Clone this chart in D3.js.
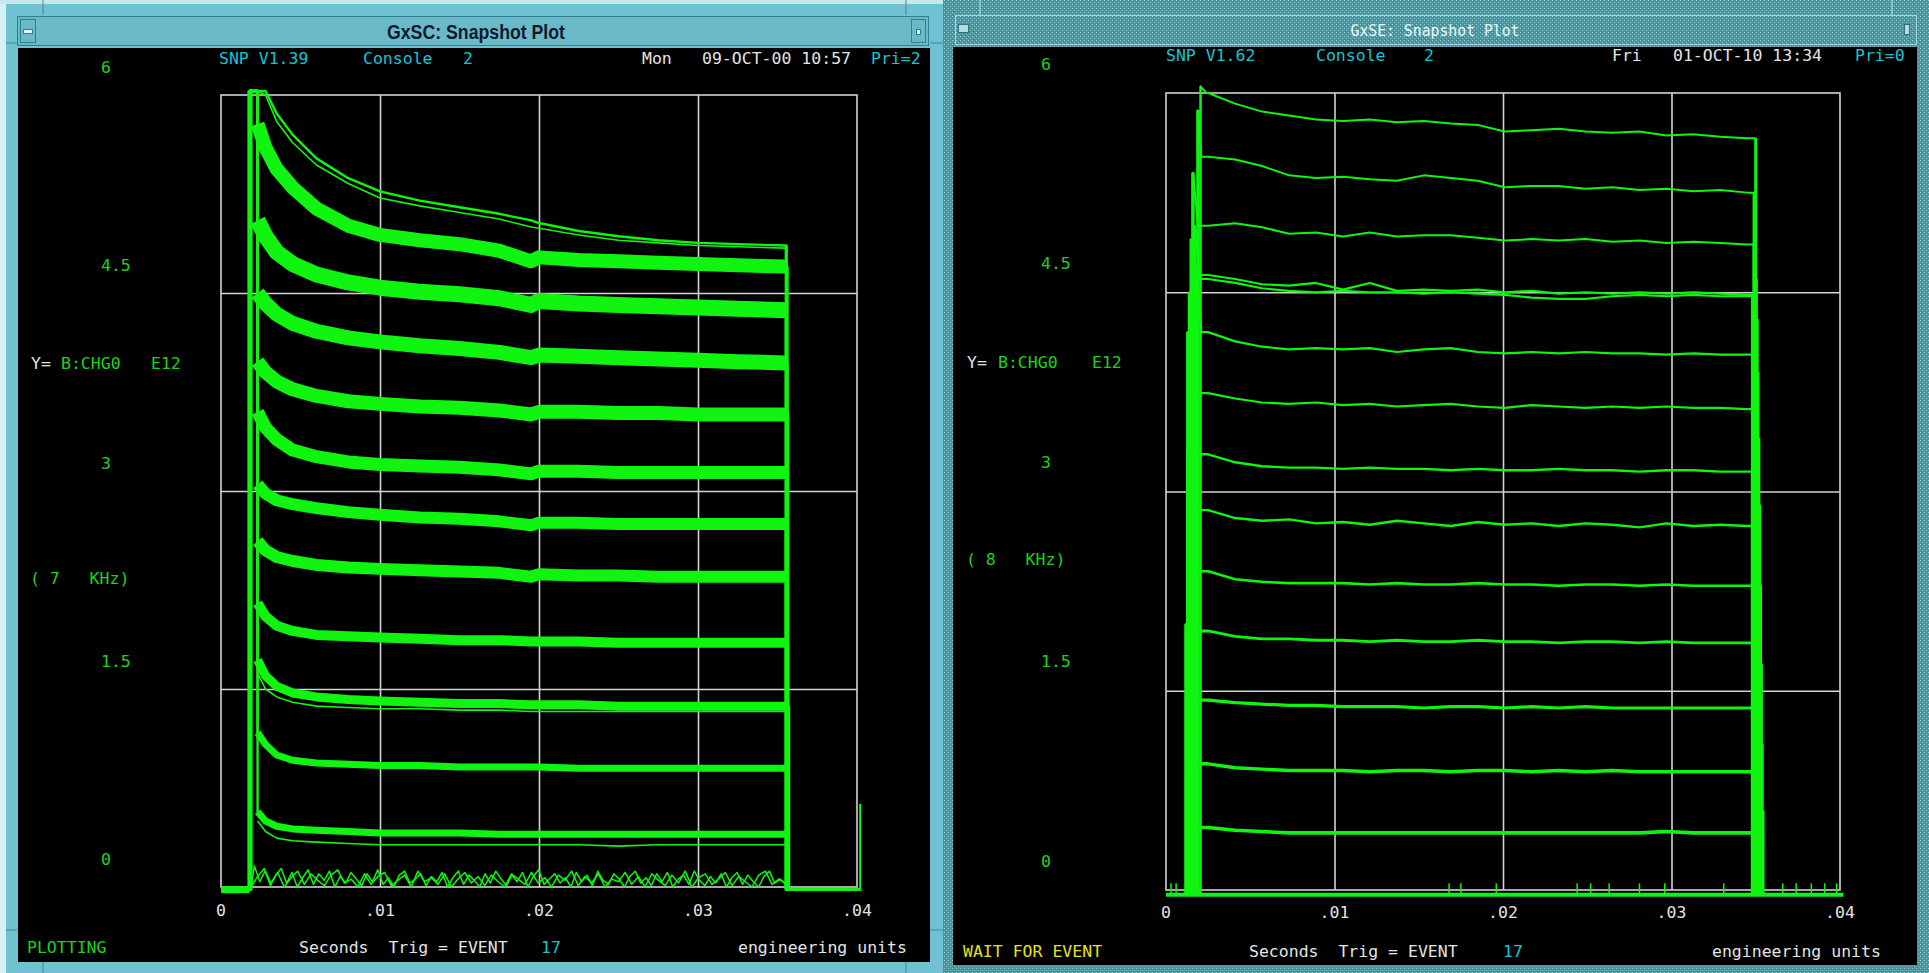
<!DOCTYPE html>
<html>
<head>
<meta charset="utf-8">
<script src="https://cdn.jsdelivr.net/npm/d3@7"></script>
<style>
  html, body { margin: 0; padding: 0; background: #000; overflow: hidden; }
  svg text { font-family: "DejaVu Sans Mono", "Liberation Mono", monospace; font-size: 16.5px; white-space: pre; }
</style>
</head>
<body>
<svg id="screen" width="1929" height="973"></svg>
<script>
// axis ticks (both snapshots share them)
const xTicks = [0, 0.01, 0.02, 0.03, 0.04];
const xTickLabels = ['0', '.01', '.02', '.03', '.04'];
const yTicks = [0, 1.5, 3, 4.5, 6];
const yTickLabels = ['0', '1.5', '3', '4.5', '6'];

// ---- GxSC snapshot (left), values in E12 vs seconds
const leftKnots = [0.0023, 0.0028, 0.0035, 0.0045, 0.006, 0.008, 0.01, 0.0125, 0.015, 0.0175, 0.0195, 0.02, 0.0225, 0.025, 0.0275, 0.03, 0.0325, 0.0355];
const leftA1 = [6.03, 6.03, 5.86, 5.7, 5.52, 5.37, 5.27, 5.2, 5.15, 5.1, 5.05, 5.03, 4.97, 4.93, 4.9, 4.88, 4.87, 4.86];
const leftA2 = [6.03, 6.0, 5.8, 5.64, 5.47, 5.33, 5.22, 5.16, 5.11, 5.06, 5.0, 4.99, 4.94, 4.9, 4.88, 4.86, 4.85, 4.84];
const leftB = [5.78, 5.6, 5.44, 5.3, 5.14, 5.01, 4.94, 4.9, 4.87, 4.82, 4.74, 4.77, 4.75, 4.74, 4.73, 4.72, 4.71, 4.7];
const leftC = [5.05, 4.93, 4.81, 4.72, 4.64, 4.58, 4.54, 4.51, 4.49, 4.46, 4.41, 4.44, 4.42, 4.41, 4.4, 4.39, 4.38, 4.37];
const leftD = [4.5, 4.42, 4.34, 4.27, 4.21, 4.16, 4.13, 4.1, 4.08, 4.05, 4.01, 4.03, 4.02, 4.01, 4.0, 3.99, 3.98, 3.97];
const leftE = [3.98, 3.9, 3.83, 3.77, 3.72, 3.68, 3.66, 3.64, 3.63, 3.61, 3.58, 3.6, 3.6, 3.59, 3.59, 3.58, 3.58, 3.58];
const leftF = [3.6, 3.48, 3.39, 3.31, 3.26, 3.22, 3.2, 3.19, 3.18, 3.16, 3.13, 3.15, 3.15, 3.14, 3.14, 3.14, 3.14, 3.14];
const leftG = [3.05, 2.98, 2.93, 2.9, 2.87, 2.84, 2.82, 2.8, 2.79, 2.77, 2.74, 2.76, 2.76, 2.75, 2.75, 2.75, 2.75, 2.75];
const leftH = [2.62, 2.55, 2.5, 2.47, 2.44, 2.42, 2.41, 2.4, 2.39, 2.38, 2.35, 2.37, 2.36, 2.36, 2.35, 2.35, 2.35, 2.35];
const leftI = [2.15, 2.05, 1.98, 1.94, 1.91, 1.9, 1.89, 1.88, 1.87, 1.87, 1.86, 1.86, 1.86, 1.85, 1.85, 1.85, 1.85, 1.85];
const leftJ = [1.72, 1.6, 1.52, 1.47, 1.44, 1.42, 1.41, 1.4, 1.39, 1.39, 1.38, 1.38, 1.38, 1.37, 1.37, 1.37, 1.37, 1.37];
const leftK = [1.17, 1.08, 1.0, 0.96, 0.94, 0.93, 0.92, 0.92, 0.91, 0.91, 0.91, 0.91, 0.9, 0.9, 0.9, 0.9, 0.9, 0.9];
const leftL = [0.57, 0.5, 0.46, 0.44, 0.43, 0.42, 0.41, 0.41, 0.41, 0.4, 0.4, 0.4, 0.4, 0.4, 0.4, 0.4, 0.4, 0.4];
const leftJlow = [1.62, 1.5, 1.44, 1.4, 1.37, 1.36, 1.35, 1.35, 1.34, 1.34, 1.33, 1.33, 1.33, 1.33, 1.33, 1.33, 1.33, 1.33];
const leftLlow = [0.5, 0.42, 0.37, 0.35, 0.34, 0.33, 0.32, 0.32, 0.32, 0.32, 0.32, 0.32, 0.32, 0.31, 0.32, 0.32, 0.32, 0.32];
const leftRise = [0.0018, 0.0018, 0.00185, 0.0018, 0.00185, 0.0018, 0.00185, 0.0018, 0.00185, 0.0018, 0.00185, 0.0018];
const leftFall = [0.03555, 0.0356, 0.03555, 0.0356, 0.03565, 0.0356, 0.03555, 0.0356, 0.03565, 0.0357, 0.0356, 0.03565];
const leftNoise1 = [0.16, 0.04, 0.12, 0.01, 0.09, 0.14, 0.03, 0.11, 0.0, 0.07, 0.13, 0.02, 0.1, 0.05, 0.12, 0.0, 0.08, 0.03, 0.11, 0.06,
  0.01, 0.1, 0.04, 0.13, 0.02, 0.07, 0.0, 0.09, 0.12, 0.03, 0.06, 0.1, 0.01, 0.08, 0.04, 0.11, 0.0, 0.07, 0.12, 0.02,
  0.09, 0.05, 0.0, 0.1, 0.03, 0.12, 0.06, 0.01, 0.09, 0.04, 0.11, 0.0, 0.08, 0.13, 0.02, 0.06, 0.1, 0.03, 0.07, 0.0,
  0.11, 0.04, 0.09, 0.01, 0.12, 0.05, 0.02, 0.1, 0.06, 0.0, 0.08, 0.12, 0.03, 0.07, 0.01, 0.1, 0.04, 0.11, 0.0, 0.06,
  0.09, 0.02, 0.12, 0.05, 0.01, 0.08, 0.03, 0.1, 0.0, 0.07, 0.11, 0.02, 0.09, 0.04, 0.0, 0.08, 0.12, 0.03, 0.06, 0.02];
const leftNoise2 = [0.08, 0.14, 0.03, 0.11, 0.0, 0.07, 0.12, 0.02, 0.1, 0.05, 0.01, 0.09, 0.13, 0.03, 0.06, 0.0, 0.1, 0.02, 0.08, 0.11,
  0.01, 0.05, 0.09, 0.0, 0.12, 0.04, 0.07, 0.02, 0.1, 0.0, 0.06, 0.11, 0.03, 0.08, 0.01, 0.09, 0.04, 0.0, 0.1, 0.06,
  0.02, 0.11, 0.03, 0.07, 0.0, 0.09, 0.05, 0.12, 0.01, 0.08, 0.03, 0.1, 0.0, 0.06, 0.04, 0.11, 0.02, 0.08, 0.0, 0.1,
  0.05, 0.01, 0.09, 0.03, 0.12, 0.0, 0.07, 0.1, 0.02, 0.06, 0.11, 0.01, 0.08, 0.04, 0.0, 0.09, 0.12, 0.02, 0.06, 0.03];
const leftSpike = [0.0402, 0.63];

// ---- GxSE snapshot (right)
const rightKnots = [0.0025, 0.0041, 0.0057, 0.0073, 0.0089, 0.0105, 0.0121, 0.0137, 0.0153, 0.0169, 0.0185, 0.0201, 0.0217, 0.0233, 0.0249, 0.0265, 0.0281, 0.0297, 0.0313, 0.0329, 0.0345];
const right1 = [6.0, 5.92, 5.86, 5.83, 5.8, 5.79, 5.8, 5.78, 5.79, 5.77, 5.76, 5.71, 5.72, 5.73, 5.71, 5.7, 5.71, 5.68, 5.69, 5.67, 5.66];
const right2 = [5.52, 5.5, 5.45, 5.38, 5.36, 5.37, 5.35, 5.34, 5.38, 5.36, 5.34, 5.29, 5.3, 5.3, 5.28, 5.29, 5.27, 5.28, 5.26, 5.27, 5.25];
const right3 = [5.0, 5.02, 4.99, 4.94, 4.95, 4.92, 4.95, 4.92, 4.93, 4.93, 4.91, 4.89, 4.9, 4.89, 4.9, 4.88, 4.89, 4.87, 4.88, 4.87, 4.86];
const right4 = [4.63, 4.6, 4.56, 4.55, 4.57, 4.52, 4.57, 4.51, 4.52, 4.51, 4.52, 4.5, 4.51, 4.49, 4.5, 4.49, 4.5, 4.49, 4.5, 4.49, 4.48];
const right5 = [4.6, 4.57, 4.53, 4.51, 4.5, 4.51, 4.5, 4.5, 4.49, 4.5, 4.49, 4.48, 4.46, 4.45, 4.45, 4.47, 4.48, 4.47, 4.48, 4.47, 4.47];
const right6 = [4.2, 4.13, 4.09, 4.07, 4.08, 4.07, 4.08, 4.05, 4.07, 4.08, 4.05, 4.04, 4.05, 4.04, 4.05, 4.04, 4.04, 4.03, 4.04, 4.03, 4.03];
const right7 = [3.74, 3.7, 3.67, 3.66, 3.67, 3.65, 3.66, 3.64, 3.65, 3.66, 3.64, 3.63, 3.65, 3.64, 3.63, 3.64, 3.63, 3.64, 3.63, 3.63, 3.62];
const right8 = [3.28, 3.22, 3.19, 3.18, 3.18, 3.17, 3.18, 3.17, 3.17, 3.16, 3.17, 3.16, 3.16, 3.17, 3.16, 3.16, 3.15, 3.16, 3.16, 3.15, 3.15];
const right9 = [2.86, 2.8, 2.78, 2.79, 2.76, 2.77, 2.75, 2.78, 2.76, 2.74, 2.77, 2.75, 2.76, 2.74, 2.76, 2.75, 2.73, 2.76, 2.74, 2.75, 2.74];
const right10 = [2.4, 2.34, 2.32, 2.31, 2.31, 2.31, 2.3, 2.31, 2.3, 2.3, 2.31, 2.3, 2.3, 2.29, 2.3, 2.3, 2.29, 2.3, 2.29, 2.29, 2.29];
const right11 = [1.95, 1.91, 1.89, 1.89, 1.88, 1.88, 1.87, 1.88, 1.87, 1.87, 1.88, 1.87, 1.87, 1.86, 1.87, 1.87, 1.86, 1.87, 1.86, 1.86, 1.86];
const right12 = [1.43, 1.41, 1.4, 1.39, 1.39, 1.38, 1.38, 1.38, 1.37, 1.38, 1.38, 1.37, 1.38, 1.37, 1.38, 1.37, 1.37, 1.37, 1.37, 1.37, 1.37];
const right13 = [0.95, 0.92, 0.91, 0.9, 0.9, 0.9, 0.89, 0.9, 0.9, 0.89, 0.9, 0.9, 0.89, 0.9, 0.89, 0.9, 0.89, 0.89, 0.89, 0.89, 0.89];
const right14 = [0.47, 0.45, 0.44, 0.43, 0.43, 0.43, 0.43, 0.43, 0.43, 0.43, 0.43, 0.43, 0.43, 0.43, 0.43, 0.43, 0.43, 0.44, 0.43, 0.43, 0.43];
const rightRise = [0.00205, 0.0019, 0.0016, 0.0017, 0.0015, 0.0018, 0.0014, 0.0016, 0.0013, 0.0015, 0.0013, 0.0014, 0.0012, 0.0013];
const rightPeak = [6.05, 5.87, 5.4, 5.0, 4.9, 4.7, 4.5, 4.4, 4.2, 3.8, 3.3, 2.6, 2.0, 1.2];
const rightDrop = [0.0024, 0.0021, 0.0019, 0.002, 0.0018, 0.0021, 0.0017, 0.0019, 0.0016, 0.0018, 0.0016, 0.0017, 0.0015, 0.0016];
const rightFall = [0.035, 0.0349, 0.0349, 0.035, 0.0348, 0.0349, 0.035, 0.0348, 0.0349, 0.035, 0.0349, 0.035, 0.0351, 0.035];
const rightRingX = [0.03505, 0.0351, 0.03515, 0.0352, 0.03525, 0.0353, 0.03535, 0.0354, 0.03545];
const rightRingTop = [4.6, 4.3, 3.9, 3.4, 2.9, 2.3, 1.7, 1.1, 0.6];
const rightBaseTicks = [0.0003, 0.0006, 0.0168, 0.0175, 0.0196, 0.0244, 0.0252, 0.0263, 0.0281, 0.0296, 0.0331, 0.0366, 0.0374, 0.0383, 0.0391, 0.0398];

const TOP = 6.03, LBASE = -0.02, RBASE = -0.035, XEND = 0.0402;

const GREEN = '#10f510', LABEL = '#1ed21e', CYAN = '#18c4d4', WHITE = '#e4e4e4',
      YELLOW = '#e6e020', GRID = '#d2d2d2';

const svg = d3.select('#screen');

// ---------- window chrome
const defs = svg.append('defs');
const pat = defs.append('pattern').attr('id', 'dither')
    .attr('width', 4).attr('height', 4).attr('patternUnits', 'userSpaceOnUse');
pat.append('rect').attr('width', 4).attr('height', 4).attr('fill', '#4c97a0');
[[0, 0, '#94d0d4'], [2, 2, '#86c6cb'], [1, 3, '#367e87'], [3, 1, '#3f8a93']].forEach(([px, py, c]) =>
  pat.append('rect').attr('x', px).attr('y', py).attr('width', 1).attr('height', 1).attr('fill', c));

// left window (GxSC)
svg.append('rect').attr('x', 0).attr('y', 0).attr('width', 943).attr('height', 973).attr('fill', '#70c2d2');
svg.append('rect').attr('x', 0).attr('y', 0).attr('width', 6).attr('height', 973).attr('fill', '#d6f1f5');
svg.append('rect').attr('x', 0).attr('y', 0).attr('width', 943).attr('height', 4).attr('fill', '#c4eaf0');
[43, 906].forEach(xx => {
  svg.append('line').attr('x1', xx).attr('x2', xx).attr('y1', 0).attr('y2', 15).attr('stroke', '#3a8a9a');
  svg.append('line').attr('x1', xx).attr('x2', xx).attr('y1', 962).attr('y2', 973).attr('stroke', '#3a8a9a');
});
[43, 930].forEach(yy => {
  svg.append('line').attr('x1', 6).attr('x2', 17).attr('y1', yy).attr('y2', yy).attr('stroke', '#3a8a9a');
  svg.append('line').attr('x1', 930).attr('x2', 943).attr('y1', yy).attr('y2', yy).attr('stroke', '#3a8a9a');
});
svg.append('rect').attr('x', 17.5).attr('y', 16.5).attr('width', 911).attr('height', 29)
    .attr('fill', '#6ab9c9').attr('stroke', '#2f7f8f');
svg.append('rect').attr('x', 20.5).attr('y', 19.5).attr('width', 15).attr('height', 23)
    .attr('fill', '#6ab9c9').attr('stroke', '#2f7f8f');
svg.append('rect').attr('x', 23.5).attr('y', 29.5).attr('width', 9).attr('height', 4)
    .attr('fill', '#e8f8f8').attr('stroke', '#2f7f8f');
svg.append('rect').attr('x', 911.5).attr('y', 19.5).attr('width', 14).attr('height', 23)
    .attr('fill', '#6ab9c9').attr('stroke', '#2f7f8f');
svg.append('rect').attr('x', 916.5).attr('y', 29.5).attr('width', 4).attr('height', 5)
    .attr('fill', '#e8f8f8').attr('stroke', '#2f7f8f');
svg.append('rect').attr('x', 18).attr('y', 48).attr('width', 912).attr('height', 914).attr('fill', '#000');
svg.append('text').attr('x', 476).attr('y', 32).attr('text-anchor', 'middle').attr('dominant-baseline', 'central')
    .attr('textLength', 178).attr('lengthAdjust', 'spacingAndGlyphs')
    .style('font-family', '"Liberation Sans Narrow", "Liberation Sans", sans-serif')
    .style('font-size', '20px').style('font-weight', 'bold')
    .attr('fill', '#101a2c').text('GxSC: Snapshot Plot');

// right window (GxSE)
svg.append('rect').attr('x', 943).attr('y', 0).attr('width', 986).attr('height', 973).attr('fill', 'url(#dither)');
[980, 1892].forEach(xx =>
  svg.append('line').attr('x1', xx).attr('x2', xx).attr('y1', 0).attr('y2', 15).attr('stroke', '#bfe4e7'));
svg.append('rect').attr('x', 955.5).attr('y', 15.5).attr('width', 961).attr('height', 29)
    .attr('fill', 'url(#dither)').attr('stroke', '#bfe4e7').attr('stroke-width', 0.8);
svg.append('rect').attr('x', 958.5).attr('y', 24.5).attr('width', 10).attr('height', 8)
    .attr('fill', '#b4dde0').attr('stroke', '#2f747c');
svg.append('rect').attr('x', 1904.5).attr('y', 24.5).attr('width', 5).attr('height', 10)
    .attr('fill', '#b4dde0').attr('stroke', '#2f747c');
svg.append('rect').attr('x', 953).attr('y', 47).attr('width', 964).attr('height', 918).attr('fill', '#000');
svg.append('text').attr('x', 1435).attr('y', 31).attr('text-anchor', 'middle').attr('dominant-baseline', 'central')
    .attr('textLength', 169).attr('lengthAdjust', 'spacingAndGlyphs')
    .style('font-size', '15px').attr('fill', '#eef8f8').text('GxSE: Snapshot Plot');

// ---------- helpers
function txt(x, y, s, color, anchor) {
  return svg.append('text').attr('x', x).attr('y', y)
      .attr('dominant-baseline', 'central').attr('text-anchor', anchor || 'start')
      .attr('fill', color).text(s);
}

function drawFrame(p) {
  const x = d3.scaleLinear().domain([0, 0.04]).range([p.x0, p.x1]);
  const y = d3.scaleLinear().domain([0, 6]).range([p.y1, p.y0]);
  const g = svg.append('g');

  g.append('g').attr('transform', `translate(0,${p.y1})`)
    .call(d3.axisBottom(x).tickValues(xTicks.slice(1, -1)).tickSize(-(p.y1 - p.y0)).tickFormat(''))
    .call(a => a.select('.domain').remove())
    .call(a => a.selectAll('line').attr('stroke', GRID).attr('stroke-width', 1.6));
  g.append('g').attr('transform', `translate(${p.x0},0)`)
    .call(d3.axisLeft(y).tickValues(yTicks.slice(1, -1)).tickSize(-(p.x1 - p.x0)).tickFormat(''))
    .call(a => a.select('.domain').remove())
    .call(a => a.selectAll('line').attr('stroke', GRID).attr('stroke-width', 1.6));
  g.append('rect').attr('x', p.x0).attr('y', p.y0).attr('width', p.x1 - p.x0).attr('height', p.y1 - p.y0)
    .attr('fill', 'none').attr('stroke', GRID).attr('stroke-width', 1.6);

  xTicks.forEach((v, i) => txt(x(v), p.xlabY, xTickLabels[i], WHITE, 'middle'));
  yTicks.forEach((v, i) => txt(p.ylabX, y(v) + p.ylabDy, yTickLabels[i], LABEL));
  return {x, y};
}

// ---------- left snapshot
const L = drawFrame({x0: 221, x1: 857, y0: 95, y1: 887, xlabY: 910, ylabX: 101, ylabDy: -28});
const lline = d3.line().x(d => L.x(d[0])).y(d => L.y(d[1]));
const leftBands = [leftA1, leftB, leftC, leftD, leftE, leftF, leftG, leftH, leftI, leftJ, leftK, leftL];
const leftWidths = [1.8, 14, 16, 15, 14, 13, 12, 12, 10, 9, 7, 7];
const lg = svg.append('g').attr('fill', 'none').attr('stroke', GREEN).attr('stroke-linejoin', 'round');

leftBands.forEach((band, i) => {
  const last = band[band.length - 1];
  const pts = [[0, LBASE], [leftRise[i], LBASE], [leftRise[i], TOP], [leftKnots[0], TOP]]
    .concat(leftKnots.map((k, j) => [k, band[j]]))
    .concat([[leftFall[i], last], [leftFall[i], LBASE], [XEND, LBASE]]);
  lg.append('path').attr('d', lline(pts)).attr('stroke-width', 2.4);
  // heavier strokes on the rise and fall edges, where many shots pile up
  lg.append('path').attr('d', lline([[leftRise[i], LBASE], [leftRise[i], TOP]])).attr('stroke-width', 3.5);
  lg.append('path').attr('d', lline([[leftFall[i], last], [leftFall[i], LBASE]])).attr('stroke-width', 3.2);
  if (leftWidths[i] > 3) {
    lg.append('path').attr('d', lline(leftKnots.map((k, j) => [k, band[j]])))
      .attr('stroke-width', leftWidths[i]);
  }
});
[leftA2, leftJlow, leftLlow].forEach(arr =>
  lg.append('path').attr('d', lline(leftKnots.map((k, j) => [k, arr[j]]))).attr('stroke-width', 1.6));

[leftNoise1, leftNoise2].forEach((arr, n) => {
  const t = d3.scaleLinear().domain([0, arr.length - 1]).range([0.0021 + n * 0.0002, 0.0355]);
  const pts = [[0.0019, 0]].concat(arr.map((v, j) => [t(j), v])).concat([[0.0356, 0]]);
  lg.append('path').attr('d', lline(pts)).attr('stroke-width', 1.5);
});
lg.append('path').attr('d', lline([[0, LBASE], [d3.min(leftRise), LBASE]])).attr('stroke-width', 7);
lg.append('path').attr('d', lline([[leftSpike[0], LBASE], [leftSpike[0], leftSpike[1]]])).attr('stroke-width', 2);

// left texts
txt(219, 58, 'SNP V1.39', CYAN);
txt(363, 58, 'Console', CYAN);
txt(463, 58, '2', CYAN);
txt(642, 58, 'Mon', WHITE);
txt(702, 58, '09-OCT-00 10:57', WHITE);
txt(871, 58, 'Pri=2', CYAN);
txt(31, 363, 'Y=', WHITE);
txt(61, 363, 'B:CHG0', LABEL);
txt(151, 363, 'E12', LABEL);
txt(30, 578, '( 7   KHz)', LABEL);
txt(27, 947, 'PLOTTING', LABEL);
txt(299, 947, 'Seconds  Trig = EVENT', WHITE);
txt(541, 947, '17', CYAN);
txt(738, 947, 'engineering units', WHITE);

// ---------- right snapshot
const R = drawFrame({x0: 1166, x1: 1840, y0: 93, y1: 890, xlabY: 912, ylabX: 1041, ylabDy: -29});
const rline = d3.line().x(d => R.x(d[0])).y(d => R.y(d[1]));
const rightTraces = [right1, right2, right3, right4, right5, right6, right7, right8, right9, right10, right11, right12, right13, right14];
const rightWidths = [2, 2, 2, 2.2, 2.2, 2.2, 2.2, 2.4, 2.4, 2.6, 2.8, 3.2, 3.4, 3.6];
const rg = svg.append('g').attr('fill', 'none').attr('stroke', GREEN).attr('stroke-linejoin', 'round');

rg.append('path').attr('d', rline([[0, RBASE], [XEND, RBASE]])).attr('stroke-width', 4);
rightBaseTicks.forEach(t =>
  rg.append('path').attr('d', rline([[t, RBASE], [t, 0.05]])).attr('stroke-width', 1.5));

rightTraces.forEach((tr, i) => {
  const last = tr[tr.length - 1];
  const pts = [[rightRise[i], RBASE], [rightRise[i], rightPeak[i]], [rightDrop[i], tr[0]]]
    .concat(rightKnots.map((k, j) => [k, tr[j]]))
    .concat([[rightFall[i], last], [rightFall[i], RBASE]]);
  rg.append('path').attr('d', rline(pts)).attr('stroke-width', rightWidths[i]);
  rg.append('path').attr('d', rline([[rightRise[i], RBASE], [rightRise[i], rightPeak[i]]]))
    .attr('stroke-width', i === 0 ? 2 : 3.6);
  rg.append('path').attr('d', rline([[rightFall[i], last], [rightFall[i], RBASE]])).attr('stroke-width', 3);
});
rightRingX.forEach((t, i) =>
  rg.append('path').attr('d', rline([[t, RBASE], [t, rightRingTop[i]]])).attr('stroke-width', 2.5));

// right texts
txt(1166, 55, 'SNP V1.62', CYAN);
txt(1316, 55, 'Console', CYAN);
txt(1424, 55, '2', CYAN);
txt(1612, 55, 'Fri', WHITE);
txt(1673, 55, '01-OCT-10 13:34', WHITE);
txt(1855, 55, 'Pri=0', CYAN);
txt(967, 362, 'Y=', WHITE);
txt(998, 362, 'B:CHG0', LABEL);
txt(1092, 362, 'E12', LABEL);
txt(966, 559, '( 8   KHz)', LABEL);
txt(963, 951, 'WAIT FOR EVENT', YELLOW);
txt(1249, 951, 'Seconds  Trig = EVENT', WHITE);
txt(1503, 951, '17', CYAN);
txt(1712, 951, 'engineering units', WHITE);
</script>
</body>
</html>
